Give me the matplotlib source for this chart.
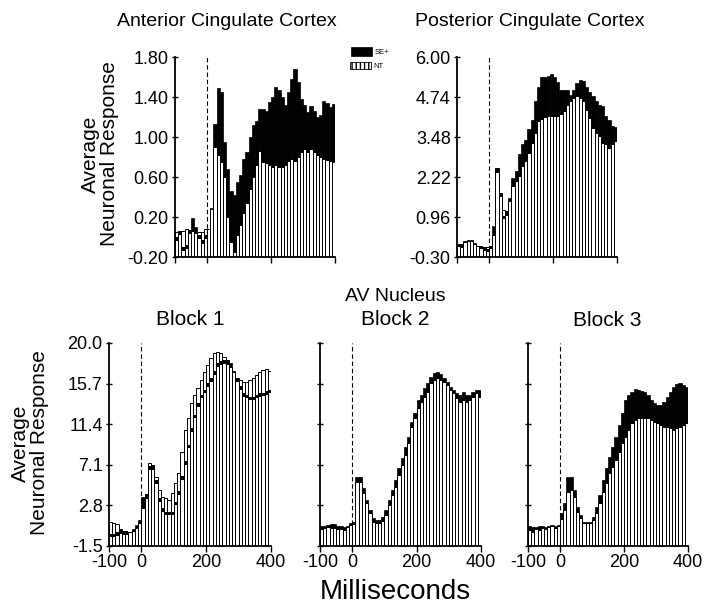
#!/usr/bin/env python3
"""
SE+ / NT average neuronal response histograms (cingulate cortex and AV nucleus)
"""

import numpy as np
import matplotlib
matplotlib.use("Agg")
import matplotlib.pyplot as plt
from matplotlib.patches import Rectangle

plt.rcParams['font.family'] = ['Liberation Sans', 'DejaVu Sans']

FIG_W, FIG_H = 704, 610

# 10 ms bins from -100 to 400 ms
BIN_MS = 10
bin_starts = np.arange(-100, 400, BIN_MS)
x_ticks = [-100, 0, 200, 400]

# Anterior cingulate cortex
acc_se = [-0.02, 0.04, -0.12, -0.10, 0.05, 0.19, 0.10, 0.00, -0.05, 0.00,
          0.08, 0.29, 1.13, 1.49, 1.45, 0.95, 0.68, 0.46, 0.42, 0.55,
          0.62, 0.78, 0.85, 1.00, 1.12, 1.16, 1.28, 1.28, 1.26, 1.35,
          1.40, 1.50, 1.47, 1.40, 1.32, 1.45, 1.58, 1.68, 1.55, 1.38,
          1.32, 1.25, 1.31, 1.26, 1.20, 1.22, 1.36, 1.34, 1.30, 1.33]
acc_nt = [0.05, 0.06, 0.06, 0.08, 0.06, 0.06, 0.04, 0.05, 0.05, 0.08,
          0.08, 0.28, 0.90, 0.82, 0.75, 0.60, 0.20, -0.05, -0.15, 0.02,
          0.12, 0.24, 0.34, 0.48, 0.60, 0.72, 0.86, 0.75, 0.74, 0.72,
          0.70, 0.72, 0.70, 0.70, 0.72, 0.76, 0.78, 0.76, 0.80, 0.85,
          0.88, 0.85, 0.88, 0.85, 0.82, 0.80, 0.78, 0.77, 0.76, 0.75]

# Posterior cingulate cortex
pcc_se = [0.10, 0.05, 0.20, 0.22, 0.22, 0.15, 0.05, 0.00, -0.05, -0.10,
          0.00, 0.69, 2.40, 1.65, 0.95, 1.05, 1.55, 2.20, 2.41, 2.93,
          3.25, 3.40, 3.72, 4.03, 4.60, 5.07, 5.36, 5.38, 5.41, 5.46,
          5.38, 5.20, 4.97, 4.97, 4.95, 4.81, 4.97, 5.18, 5.28, 5.23,
          5.07, 4.91, 4.78, 4.60, 4.50, 4.45, 4.13, 4.03, 3.84, 3.80]
pcc_nt = [0.05, 0.10, 0.18, 0.20, 0.20, 0.12, 0.05, 0.02, 0.00, 0.00,
          0.05, 0.40, 2.49, 1.71, 1.19, 1.16, 1.45, 1.94, 2.10, 2.26,
          2.57, 2.73, 2.99, 3.28, 3.61, 3.98, 4.05, 4.11, 4.15, 4.15,
          4.13, 4.15, 4.19, 4.29, 4.50, 4.60, 4.71, 4.76, 4.71, 4.60,
          4.34, 4.08, 3.77, 3.61, 3.51, 3.30, 3.25, 3.14, 3.25, 3.35]

# AV nucleus, block 1..3
b1_se = [-0.4, -0.4, -0.2, 0.0, -0.1, -0.1, 0.0, 0.3, 0.7, 1.3,
         3.7, 3.7, 6.73, 6.73, 5.31, 3.37, 2.31, 1.96, 1.96, 1.96,
         3.00, 4.08, 5.67, 7.26, 9.02, 10.79, 12.20, 13.43, 14.32, 14.85,
         15.55, 16.08, 16.79, 17.67, 17.85, 18.02, 17.85, 17.85, 17.00, 16.08,
         15.20, 14.50, 14.32, 14.14, 14.14, 14.32, 14.50, 14.56, 14.67, 14.85]
b1_nt = [1.0, 0.9, 0.8, 0.3, 0.0, 0.0, 0.0, 0.1, 0.4, 0.9,
         2.5, 4.0, 7.33, 7.08, 5.84, 4.43, 3.73, 3.55, 3.37, 4.08,
         5.14, 6.20, 8.49, 10.79, 12.02, 13.61, 14.49, 15.20, 16.08, 16.96,
         17.67, 18.38, 18.91, 19.08, 18.91, 18.55, 18.20, 17.49, 16.90, 16.26,
         16.08, 15.90, 15.90, 16.08, 16.26, 16.60, 16.96, 17.14, 17.20, 17.07]

b2_se = [0.6, 0.6, 0.7, 0.8, 0.8, 0.6, 0.6, 0.5, 0.6, 0.9,
         1.0, 5.84, 5.84, 4.60, 3.37, 2.31, 1.43, 1.26, 1.26, 1.61,
         2.31, 3.37, 4.43, 5.49, 6.73, 7.79, 9.02, 10.08, 11.67, 12.55,
         13.96, 14.49, 15.20, 15.73, 16.43, 16.86, 16.96, 16.72, 16.26, 15.90,
         15.38, 15.02, 14.67, 14.49, 14.85, 14.49, 14.49, 14.85, 15.02, 15.02]
b2_nt = [0.3, 0.4, 0.5, 0.4, 0.4, 0.3, 0.3, 0.2, 0.5, 0.7,
         0.8, 5.31, 5.31, 4.08, 3.02, 1.96, 1.08, 0.90, 0.90, 1.20,
         1.79, 2.84, 3.90, 4.79, 6.02, 7.08, 8.14, 9.37, 11.14, 12.02,
         13.08, 13.79, 14.32, 14.85, 15.73, 16.08, 16.26, 16.08, 15.90, 15.55,
         15.00, 14.67, 14.14, 13.79, 13.96, 13.79, 13.96, 14.32, 14.67, 14.32]

b3_se = [0.6, 0.5, 0.5, 0.6, 0.6, 0.5, 0.6, 0.7, 0.6, 0.7,
         1.96, 3.02, 5.84, 5.84, 4.43, 2.67, 1.79, 1.08, 1.08, 1.08,
         1.61, 2.67, 3.90, 5.49, 6.73, 7.96, 9.02, 10.08, 11.32, 12.55,
         13.96, 14.49, 14.85, 15.09, 15.02, 14.95, 14.85, 14.49, 13.96, 13.61,
         13.43, 13.43, 13.79, 14.32, 14.85, 15.38, 15.66, 15.73, 15.55, 15.38]
b3_nt = [0.2, 0.0, 0.3, 0.2, 0.4, 0.3, 0.5, 0.6, 0.4, 0.6,
         1.4, 2.3, 4.26, 4.43, 3.73, 2.14, 1.43, 0.90, 0.90, 0.90,
         1.26, 1.96, 3.02, 4.26, 5.14, 6.20, 6.90, 7.61, 8.49, 9.37,
         10.08, 10.79, 11.49, 11.85, 12.02, 12.02, 12.02, 12.02, 11.85, 11.67,
         11.49, 11.32, 11.14, 11.14, 10.96, 10.79, 10.96, 11.14, 11.32, 11.56]

acc_yticks = ["-0.20", "0.20", "0.60", "1.00", "1.40", "1.80"]
pcc_yticks = ["-0.30", "0.96", "2.22", "3.48", "4.74", "6.00"]
av_yticks = ["-1.5", "2.8", "7.1", "11.4", "15.7", "20.0"]


def px_box(left, top, right, bottom):
    """pixel box -> figure fraction rect"""
    return [left / FIG_W, 1 - bottom / FIG_H,
            (right - left) / FIG_W, (bottom - top) / FIG_H]


def draw_panel(ax, se, nt, ytick_labels, show_ylabels=True, show_xlabels=False):
    se = np.asarray(se)
    nt = np.asarray(nt)
    yvals = [float(v) for v in ytick_labels]
    ymin, ymax = yvals[0], yvals[-1]

    # SE+ (black) behind, NT (white striped) in front
    ax.bar(bin_starts, se - ymin, bottom=ymin, width=BIN_MS, align='edge',
           color='black', edgecolor='black', linewidth=0.5, zorder=1)
    ax.bar(bin_starts, nt - ymin, bottom=ymin, width=BIN_MS, align='edge',
           facecolor='white', edgecolor='black', linewidth=0.7, zorder=2)
    # SE+ level still marked where NT is higher
    cap = (ymax - ymin) * 0.018
    under = se < nt
    ax.bar(bin_starts[under], cap, bottom=se[under] - cap / 2, width=BIN_MS,
           align='edge', color='black', linewidth=0, zorder=3)

    ax.axvline(0, color='black', linestyle=(0, (4, 2.5)), linewidth=0.8, zorder=4)

    ax.set_xlim(-100, 400)
    ax.set_ylim(ymin, ymax)
    ax.set_yticks(yvals)
    if show_ylabels:
        ax.set_yticklabels(ytick_labels, fontsize=13)
    else:
        ax.set_yticklabels([])
    ax.set_xticks(x_ticks)
    if show_xlabels:
        ax.set_xticklabels([str(t) for t in x_ticks], fontsize=13)
    else:
        ax.set_xticklabels([])

    for side in ('top', 'right'):
        ax.spines[side].set_visible(False)
    ax.spines['left'].set_linewidth(1.3)
    ax.spines['bottom'].set_linewidth(1.3)
    ax.tick_params(axis='y', direction='inout', length=5, width=1, pad=2)
    ax.tick_params(axis='x', direction='out', length=4, width=1, pad=2)


def main():
    fig = plt.figure(figsize=(FIG_W / 100, FIG_H / 100), dpi=100)

    ax_acc = fig.add_axes(px_box(175, 57, 335, 257))
    ax_pcc = fig.add_axes(px_box(457, 57, 617, 257))
    ax_b1 = fig.add_axes(px_box(109, 343, 271, 546))
    ax_b2 = fig.add_axes(px_box(320, 343, 481, 546))
    ax_b3 = fig.add_axes(px_box(528, 343, 688, 546))

    draw_panel(ax_acc, acc_se, acc_nt, acc_yticks)
    draw_panel(ax_pcc, pcc_se, pcc_nt, pcc_yticks)
    draw_panel(ax_b1, b1_se, b1_nt, av_yticks, show_xlabels=True)
    draw_panel(ax_b2, b2_se, b2_nt, av_yticks, show_ylabels=False, show_xlabels=True)
    draw_panel(ax_b3, b3_se, b3_nt, av_yticks, show_ylabels=False, show_xlabels=True)

    def ftext(x, y, s, **kw):
        fig.text(x / FIG_W, 1 - y / FIG_H, s, ha='center', va='center', **kw)

    # titles
    ftext(227, 21, "Anterior Cingulate Cortex", fontsize=14)
    ftext(530, 21, "Posterior Cingulate Cortex", fontsize=14)
    ftext(395, 297, "AV Nucleus", fontsize=14)
    ftext(190, 319, "Block 1", fontsize=15)
    ftext(395, 319, "Block 2", fontsize=15)
    ftext(607, 320, "Block 3", fontsize=15)
    ftext(395, 592, "Milliseconds", fontsize=20)

    # y labels
    ftext(100, 154, "Average\nNeuronal Response", fontsize=15, rotation=90,
          multialignment='center', linespacing=1.0)
    ftext(30, 443, "Average\nNeuronal Response", fontsize=15, rotation=90,
          multialignment='center', linespacing=1.0)

    # legend
    fig.add_artist(Rectangle((351 / FIG_W, 1 - 56 / FIG_H), 21 / FIG_W, 9 / FIG_H,
                             transform=fig.transFigure, facecolor='black',
                             edgecolor='black', linewidth=0.5))
    fig.add_artist(Rectangle((350 / FIG_W, 1 - 69 / FIG_H), 21 / FIG_W, 7 / FIG_H,
                             transform=fig.transFigure, facecolor='white',
                             edgecolor='black', linewidth=0.6, hatch='||||'))
    fig.text(375 / FIG_W, 1 - 52 / FIG_H, "SE+", fontsize=5.5, va='center')
    fig.text(373 / FIG_W, 1 - 66 / FIG_H, "NT", fontsize=5.5, va='center')

    fig.savefig('out.png', dpi=100)


if __name__ == "__main__":
    main()
